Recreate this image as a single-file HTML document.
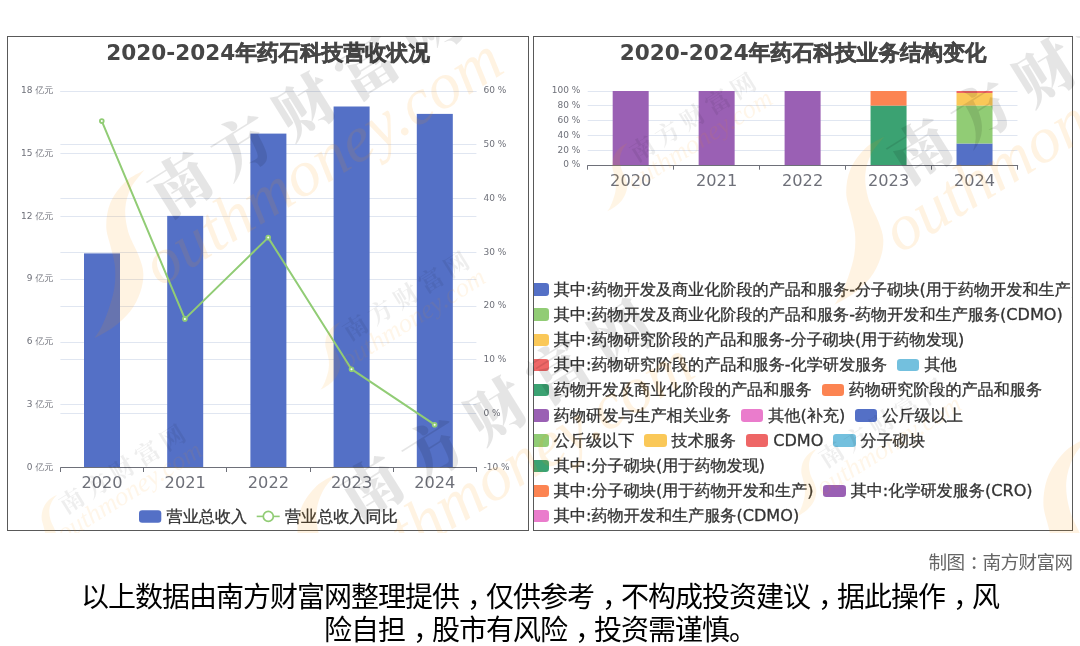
<!DOCTYPE html>
<html lang="zh-CN"><head><meta charset="utf-8"><title>药石科技</title><style>
html,body{margin:0;padding:0;background:#fff;}
body{width:1080px;height:646px;position:relative;overflow:hidden;font-family:"DejaVu Sans", "Liberation Sans", "WenQuanYi Zen Hei", sans-serif;}
.panel{position:absolute;top:36px;height:495px;box-sizing:border-box;border:1px solid #595959;overflow:hidden;background:#fff;}
#pl{left:7px;width:522px;}
#pr{left:533px;width:540px;}
svg{position:absolute;left:0;top:0;}
.title{position:absolute;top:40px;font-weight:bold;font-size:21.6px;line-height:26px;color:#464646;text-align:center;white-space:nowrap;}
.title b{-webkit-text-stroke:0.55px #464646;}
.yl{position:absolute;font-size:9px;line-height:12px;color:#6e7079;white-space:nowrap;}
.xl{position:absolute;font-size:16.2px;line-height:20px;color:#6e7079;white-space:nowrap;text-align:center;width:80px;}
.lg{position:absolute;white-space:nowrap;font-size:16.13px;line-height:20px;color:#333;height:20px;-webkit-text-stroke:0.3px #333;}
.lg i{display:inline-block;width:22.2px;height:12.5px;border-radius:3.2px;vertical-align:top;margin-top:3.5px;margin-right:5px;}
.lg span{display:inline-block;vertical-align:top;margin-right:10px;}
.foot u{text-decoration:none;position:relative;left:8px;}
.credit u{text-decoration:none;position:relative;left:5px;}
.credit{position:absolute;right:7.5px;top:551.7px;font-size:18.6px;letter-spacing:-0.6px;line-height:22px;color:#666;font-family:"Liberation Sans","Noto Sans CJK SC",sans-serif;white-space:nowrap;}
.foot{position:absolute;left:0;width:1080px;text-align:center;font-size:28px;letter-spacing:-1px;line-height:33.5px;color:#000;font-family:"Liberation Sans","Noto Sans CJK SC",sans-serif;white-space:nowrap;}
</style></head>
<body>
<div class="panel" id="pl"></div><div class="panel" id="pr"></div>
<svg width="1080" height="646" viewBox="0 0 1080 646">
<line x1="60.4" x2="476.4" y1="467.50" y2="467.50" stroke="#e0e6f1" stroke-width="1"/>
<line x1="60.4" x2="476.4" y1="404.50" y2="404.50" stroke="#e0e6f1" stroke-width="1"/>
<line x1="60.4" x2="476.4" y1="342.50" y2="342.50" stroke="#e0e6f1" stroke-width="1"/>
<line x1="60.4" x2="476.4" y1="279.50" y2="279.50" stroke="#e0e6f1" stroke-width="1"/>
<line x1="60.4" x2="476.4" y1="216.50" y2="216.50" stroke="#e0e6f1" stroke-width="1"/>
<line x1="60.4" x2="476.4" y1="153.50" y2="153.50" stroke="#e0e6f1" stroke-width="1"/>
<line x1="60.4" x2="476.4" y1="91.50" y2="91.50" stroke="#e0e6f1" stroke-width="1"/>
<line x1="60.4" x2="476.4" y1="467.50" y2="467.50" stroke="#e0e6f1" stroke-width="1"/>
<line x1="60.4" x2="476.4" y1="413.50" y2="413.50" stroke="#e0e6f1" stroke-width="1"/>
<line x1="60.4" x2="476.4" y1="359.50" y2="359.50" stroke="#e0e6f1" stroke-width="1"/>
<line x1="60.4" x2="476.4" y1="306.50" y2="306.50" stroke="#e0e6f1" stroke-width="1"/>
<line x1="60.4" x2="476.4" y1="252.50" y2="252.50" stroke="#e0e6f1" stroke-width="1"/>
<line x1="60.4" x2="476.4" y1="198.50" y2="198.50" stroke="#e0e6f1" stroke-width="1"/>
<line x1="60.4" x2="476.4" y1="144.50" y2="144.50" stroke="#e0e6f1" stroke-width="1"/>
<line x1="60.4" x2="476.4" y1="91.50" y2="91.50" stroke="#e0e6f1" stroke-width="1"/>
<rect x="84.00" y="253.4" width="36" height="214.10" fill="#5470c6"/>
<rect x="167.20" y="215.9" width="36" height="251.60" fill="#5470c6"/>
<rect x="250.40" y="133.6" width="36" height="333.90" fill="#5470c6"/>
<rect x="333.60" y="106.5" width="36" height="361.00" fill="#5470c6"/>
<rect x="416.80" y="113.9" width="36" height="353.60" fill="#5470c6"/>
<line x1="60.4" x2="477.0" y1="467.5" y2="467.5" stroke="#6e7079" stroke-width="1"/>
<line x1="60.50" x2="60.50" y1="467.5" y2="472.0" stroke="#6e7079" stroke-width="1"/>
<line x1="143.50" x2="143.50" y1="467.5" y2="472.0" stroke="#6e7079" stroke-width="1"/>
<line x1="226.50" x2="226.50" y1="467.5" y2="472.0" stroke="#6e7079" stroke-width="1"/>
<line x1="310.50" x2="310.50" y1="467.5" y2="472.0" stroke="#6e7079" stroke-width="1"/>
<line x1="393.50" x2="393.50" y1="467.5" y2="472.0" stroke="#6e7079" stroke-width="1"/>
<line x1="476.50" x2="476.50" y1="467.5" y2="472.0" stroke="#6e7079" stroke-width="1"/>
<polyline fill="none" stroke="#91cc75" stroke-width="2" stroke-linejoin="round" points="101.8,121.1 184.9,318.9 268.2,237.6 351.5,369.2 434.6,424.7"/>
<circle cx="101.8" cy="121.1" r="1.9" fill="#fff" stroke="#91cc75" stroke-width="1.8"/>
<circle cx="184.9" cy="318.9" r="1.9" fill="#fff" stroke="#91cc75" stroke-width="1.8"/>
<circle cx="268.2" cy="237.6" r="1.9" fill="#fff" stroke="#91cc75" stroke-width="1.8"/>
<circle cx="351.5" cy="369.2" r="1.9" fill="#fff" stroke="#91cc75" stroke-width="1.8"/>
<circle cx="434.6" cy="424.7" r="1.9" fill="#fff" stroke="#91cc75" stroke-width="1.8"/>
<rect x="139" y="510.3" width="22.3" height="12.5" rx="3.2" fill="#5470c6"/>
<line x1="256.7" x2="279.7" y1="516.4" y2="516.4" stroke="#91cc75" stroke-width="1.6"/>
<circle cx="268.3" cy="516.4" r="5" fill="#fff" stroke="#91cc75" stroke-width="1.7"/>
<line x1="587.7" x2="1017.5" y1="165.50" y2="165.50" stroke="#e0e6f1" stroke-width="1"/>
<line x1="587.7" x2="1017.5" y1="150.50" y2="150.50" stroke="#e0e6f1" stroke-width="1"/>
<line x1="587.7" x2="1017.5" y1="135.50" y2="135.50" stroke="#e0e6f1" stroke-width="1"/>
<line x1="587.7" x2="1017.5" y1="120.50" y2="120.50" stroke="#e0e6f1" stroke-width="1"/>
<line x1="587.7" x2="1017.5" y1="105.50" y2="105.50" stroke="#e0e6f1" stroke-width="1"/>
<line x1="587.7" x2="1017.5" y1="91.50" y2="91.50" stroke="#e0e6f1" stroke-width="1"/>
<rect x="612.68" y="91.00" width="36" height="74.20" fill="#9a60b4"/>
<rect x="698.64" y="91.00" width="36" height="74.20" fill="#9a60b4"/>
<rect x="784.60" y="91.00" width="36" height="74.20" fill="#9a60b4"/>
<rect x="870.56" y="105.60" width="36" height="59.60" fill="#3ba272"/>
<rect x="870.56" y="91.00" width="36" height="14.60" fill="#fc8452"/>
<rect x="956.52" y="143.50" width="36" height="21.70" fill="#5470c6"/>
<rect x="956.52" y="105.60" width="36" height="37.90" fill="#91cc75"/>
<rect x="956.52" y="93.00" width="36" height="12.60" fill="#fac858"/>
<rect x="956.52" y="91.00" width="36" height="2.00" fill="#ee6666"/>
<line x1="587.7" x2="1018.1" y1="165.5" y2="165.5" stroke="#6e7079" stroke-width="1"/>
<line x1="587.50" x2="587.50" y1="165.2" y2="169.7" stroke="#6e7079" stroke-width="1"/>
<line x1="673.50" x2="673.50" y1="165.2" y2="169.7" stroke="#6e7079" stroke-width="1"/>
<line x1="759.50" x2="759.50" y1="165.2" y2="169.7" stroke="#6e7079" stroke-width="1"/>
<line x1="845.50" x2="845.50" y1="165.2" y2="169.7" stroke="#6e7079" stroke-width="1"/>
<line x1="931.50" x2="931.50" y1="165.2" y2="169.7" stroke="#6e7079" stroke-width="1"/>
<line x1="1017.50" x2="1017.50" y1="165.2" y2="169.7" stroke="#6e7079" stroke-width="1"/>
</svg>
<div class="title" style="left:7px;width:522px;">2020-2024<b>年药石科技营收状况</b></div>
<div class="title" style="left:533px;width:540px;">2020-2024<b>年药石科技业务结构变化</b></div>
<div class="yl" style="right:1026.7px;top:460.6px;">0 亿元</div>
<div class="yl" style="right:1026.7px;top:397.9px;">3 亿元</div>
<div class="yl" style="right:1026.7px;top:335.1px;">6 亿元</div>
<div class="yl" style="right:1026.7px;top:272.4px;">9 亿元</div>
<div class="yl" style="right:1026.7px;top:209.6px;">12 亿元</div>
<div class="yl" style="right:1026.7px;top:146.8px;">15 亿元</div>
<div class="yl" style="right:1026.7px;top:84.1px;">18 亿元</div>
<div class="yl" style="left:483.5px;top:460.6px;">-10 %</div>
<div class="yl" style="left:483.5px;top:406.8px;">0 %</div>
<div class="yl" style="left:483.5px;top:353.0px;">10 %</div>
<div class="yl" style="left:483.5px;top:299.2px;">20 %</div>
<div class="yl" style="left:483.5px;top:245.5px;">30 %</div>
<div class="yl" style="left:483.5px;top:191.7px;">40 %</div>
<div class="yl" style="left:483.5px;top:137.9px;">50 %</div>
<div class="yl" style="left:483.5px;top:84.1px;">60 %</div>
<div class="xl" style="left:62.0px;top:473px;">2020</div>
<div class="xl" style="left:145.2px;top:473px;">2021</div>
<div class="xl" style="left:228.4px;top:473px;">2022</div>
<div class="xl" style="left:311.6px;top:473px;">2023</div>
<div class="xl" style="left:394.8px;top:473px;">2024</div>
<div class="yl" style="right:499.7px;top:158.3px;">0 %</div>
<div class="yl" style="right:499.7px;top:143.5px;">20 %</div>
<div class="yl" style="right:499.7px;top:128.6px;">40 %</div>
<div class="yl" style="right:499.7px;top:113.8px;">60 %</div>
<div class="yl" style="right:499.7px;top:98.9px;">80 %</div>
<div class="yl" style="right:499.7px;top:84.1px;">100 %</div>
<div class="xl" style="left:590.7px;top:170.7px;">2020</div>
<div class="xl" style="left:676.6px;top:170.7px;">2021</div>
<div class="xl" style="left:762.6px;top:170.7px;">2022</div>
<div class="xl" style="left:848.6px;top:170.7px;">2023</div>
<div class="xl" style="left:934.5px;top:170.7px;">2024</div>
<div class="lg" style="left:166.6px;top:506.6px;"><span>营业总收入</span></div>
<div class="lg" style="left:285px;top:506.6px;"><span>营业总收入同比</span></div>
<div style="position:absolute;left:534px;top:37px;width:538px;height:493px;overflow:hidden;">
<div class="lg" style="left:-7.4px;top:242.6px;"><i style="background:#5470c6"></i><span>其中:药物开发及商业化阶段的产品和服务-分子砌块(用于药物开发和生产)</span></div>
<div class="lg" style="left:-7.4px;top:267.8px;"><i style="background:#91cc75"></i><span>其中:药物开发及商业化阶段的产品和服务-药物开发和生产服务(CDMO)</span></div>
<div class="lg" style="left:-7.4px;top:293.0px;"><i style="background:#fac858"></i><span>其中:药物研究阶段的产品和服务-分子砌块(用于药物发现)</span></div>
<div class="lg" style="left:-7.4px;top:318.2px;"><i style="background:#ee6666"></i><span>其中:药物研究阶段的产品和服务-化学研发服务</span><i style="background:#73c0de"></i><span>其他</span></div>
<div class="lg" style="left:-7.4px;top:343.4px;"><i style="background:#3ba272"></i><span>药物开发及商业化阶段的产品和服务</span><i style="background:#fc8452"></i><span>药物研究阶段的产品和服务</span></div>
<div class="lg" style="left:-7.4px;top:368.6px;"><i style="background:#9a60b4"></i><span>药物研发与生产相关业务</span><i style="background:#ea7ccc"></i><span>其他(补充)</span><i style="background:#5470c6"></i><span>公斤级以上</span></div>
<div class="lg" style="left:-7.4px;top:393.8px;"><i style="background:#91cc75"></i><span>公斤级以下</span><i style="background:#fac858"></i><span>技术服务</span><i style="background:#ee6666"></i><span>CDMO</span><i style="background:#73c0de"></i><span>分子砌块</span></div>
<div class="lg" style="left:-7.4px;top:419.0px;"><i style="background:#3ba272"></i><span>其中:分子砌块(用于药物发现)</span></div>
<div class="lg" style="left:-7.4px;top:444.2px;"><i style="background:#fc8452"></i><span>其中:分子砌块(用于药物开发和生产)</span><i style="background:#9a60b4"></i><span>其中:化学研发服务(CRO)</span></div>
<div class="lg" style="left:-7.4px;top:469.4px;"><i style="background:#ea7ccc"></i><span>其中:药物开发和生产服务(CDMO)</span></div>
</div>
<div class="credit">制图<u>：</u>南方财富网</div>
<div class="foot" style="top:580.7px;">以上数据由南方财富网整理提供<u>，</u>仅供参考<u>，</u>不构成投资建议<u>，</u>据此操作<u>，</u>风</div>
<div class="foot" style="top:613.7px;">险自担<u>，</u>股市有风险<u>，</u>投资需谨慎。</div>
<svg class="wm" width="1080" height="646" viewBox="0 0 1080 646" style="pointer-events:none">
<defs><clipPath id="wc"><rect x="0" y="36" width="1080" height="497"/></clipPath>
<g id="logo">
<path d="M-36.9,-10.2C-40.1,-8.2 -50.4,-3.9 -56.0,1.5C-61.6,6.9 -67.5,14.7 -70.7,22.1C-73.9,29.5 -75.1,38.4 -75.1,45.7C-75.1,53.1 -72.2,59.4 -70.7,66.2C-69.2,73.0 -66.9,79.8 -66.3,86.8C-65.7,93.8 -65.9,100.8 -67.0,108.0C-68.1,115.2 -70.8,123.5 -73.0,130.0C-75.2,136.5 -77.7,142.3 -80.0,147.0C-82.3,151.7 -85.8,156.2 -87.0,158.0C-83.8,156.2 -74.0,151.5 -68.0,147.0C-62.0,142.5 -55.5,136.8 -51.0,131.0C-46.5,125.2 -43.2,118.4 -41.0,112.0C-38.8,105.6 -37.7,98.9 -38.0,92.7C-38.3,86.5 -40.3,82.0 -42.8,75.1C-45.3,68.2 -50.9,59.4 -53.1,51.5C-55.3,43.6 -56.5,35.4 -56.0,28.0C-55.5,20.6 -53.3,13.8 -50.1,7.4C-46.9,1.0 -39.1,-7.3 -36.9,-10.2Z" fill="#ff9900" fill-opacity="0.115"/>
<g transform="rotate(-32)">
<text x="-33" y="25" font-family="'Liberation Serif','Noto Serif CJK SC',serif" font-weight="900" font-size="60" letter-spacing="13.5" fill="#000" fill-opacity="0.1">南方财富网</text>
<text x="-75" y="80" font-family="'Liberation Serif',serif" font-style="italic" font-size="65.5" fill="#ff9900" fill-opacity="0.115">outhmoney.com</text>
</g></g>
<g id="logo2">
<path d="M-36.9,-10.2C-40.1,-8.2 -50.4,-3.9 -56.0,1.5C-61.6,6.9 -67.5,14.7 -70.7,22.1C-73.9,29.5 -75.1,38.4 -75.1,45.7C-75.1,53.1 -72.2,59.4 -70.7,66.2C-69.2,73.0 -66.9,79.8 -66.3,86.8C-65.7,93.8 -65.9,100.8 -67.0,108.0C-68.1,115.2 -70.8,123.5 -73.0,130.0C-75.2,136.5 -77.7,142.3 -80.0,147.0C-82.3,151.7 -85.8,156.2 -87.0,158.0C-83.8,156.2 -74.0,151.5 -68.0,147.0C-62.0,142.5 -55.5,136.8 -51.0,131.0C-46.5,125.2 -43.2,118.4 -41.0,112.0C-38.8,105.6 -37.7,98.9 -38.0,92.7C-38.3,86.5 -40.3,82.0 -42.8,75.1C-45.3,68.2 -50.9,59.4 -53.1,51.5C-55.3,43.6 -56.5,35.4 -56.0,28.0C-55.5,20.6 -53.3,13.8 -50.1,7.4C-46.9,1.0 -39.1,-7.3 -36.9,-10.2Z" fill="#ff9900" fill-opacity="0.10"/>
<g transform="rotate(-32)">
<text x="-33" y="25" font-family="'Liberation Serif','Noto Serif CJK SC',serif" font-weight="700" font-size="60" letter-spacing="13.5" fill="#000" fill-opacity="0.065">南方财富网</text>
<text x="-75" y="80" font-family="'Liberation Serif',serif" font-style="italic" font-size="65.5" fill="#ff9900" fill-opacity="0.085">outhmoney.com</text>
</g></g></defs>
<g clip-path="url(#wc)">
<use href="#logo" transform="translate(181.3,180.2)"/>
<use href="#logo" transform="translate(372.5,484.5)"/>
<use href="#logo" transform="translate(921.3,146.7)"/>
<use href="#logo" transform="translate(1133.5,448.5) scale(1.2)"/>
<use href="#logo2" transform="translate(72,499) scale(0.405)"/>
<use href="#logo2" transform="translate(355.7,325.8) scale(0.405)"/>
<use href="#logo2" transform="translate(642.6,147.2) scale(0.405)"/>
<use href="#logo2" transform="translate(831.7,452.8) scale(0.405)"/>
</g></svg>
</body></html>
